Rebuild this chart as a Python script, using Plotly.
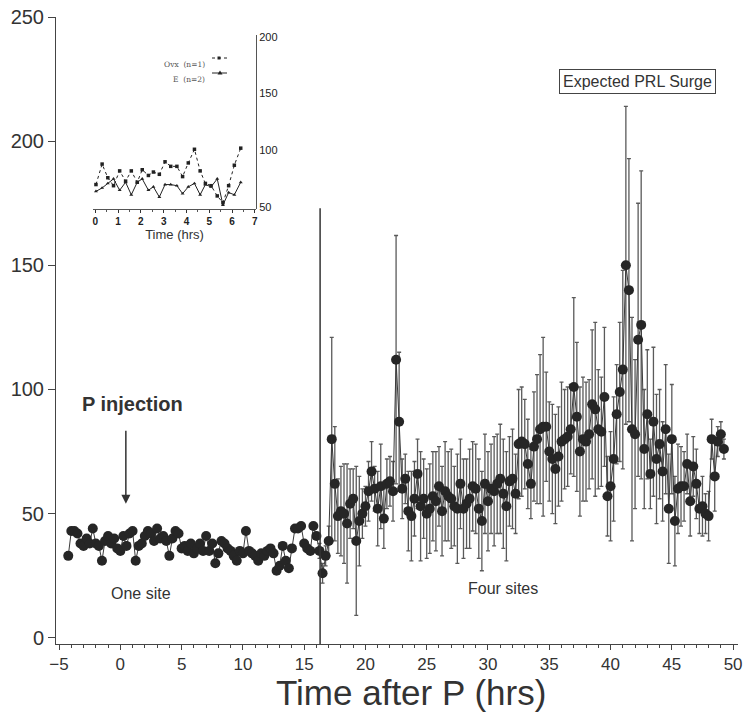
import plotly.graph_objects as go

# ---------------- main data ----------------
pre_time = [-4.25, -4.0, -3.75, -3.5, -3.25, -3.0, -2.75, -2.5,
            -2.25, -2.0, -1.75, -1.5, -1.25, -1.0, -0.75, -0.5,
            -0.25, 0.0, 0.25, 0.5, 0.75, 1.0, 1.25, 1.5,
            1.75, 2.0, 2.25, 2.5, 2.75, 3.0, 3.25, 3.5,
            3.75, 4.0, 4.25, 4.5, 4.75, 5.0, 5.25, 5.5,
            5.75, 6.0, 6.25, 6.5, 6.75, 7.0, 7.25, 7.5,
            7.75, 8.0, 8.25, 8.5, 8.75, 9.0, 9.25, 9.5,
            9.75, 10.0, 10.25, 10.5, 10.75, 11.0, 11.25, 11.5,
            11.75, 12.0, 12.25, 12.5, 12.75, 13.0, 13.25, 13.5,
            13.75, 14.0, 14.25, 14.5, 14.75, 15.0, 15.25, 15.5,
            15.75, 16.0]
pre_prl = [33, 43, 43, 42, 38, 37, 40, 38,
           44, 38, 37, 31, 39, 41, 38, 40,
           36, 35, 41, 37, 42, 43, 31, 37,
           38, 41, 43, 42, 39, 44, 40, 41,
           39, 33, 40, 43, 42, 36, 37, 35,
           38, 34, 36, 38, 35, 41, 35, 38,
           30, 34, 39, 38, 36, 35, 33, 31,
           35, 34, 43, 35, 34, 33, 31, 34,
           33, 35, 36, 34, 27, 29, 37, 31,
           28, 36, 44, 44, 45, 38, 36, 35,
           45, 41]

post_time = [16.25, 16.5, 16.75, 17.0, 17.25, 17.5, 17.75, 18.0,
             18.25, 18.5, 18.75, 19.0, 19.25, 19.5, 19.75, 20.0,
             20.25, 20.5, 20.75, 21.0, 21.25, 21.5, 21.75, 22.0,
             22.25, 22.5, 22.75, 23.0, 23.25, 23.5, 23.75, 24.0,
             24.25, 24.5, 24.75, 25.0, 25.25, 25.5, 25.75, 26.0,
             26.25, 26.5, 26.75, 27.0, 27.25, 27.5, 27.75, 28.0,
             28.25, 28.5, 28.75, 29.0, 29.25, 29.5, 29.75, 30.0,
             30.25, 30.5, 30.75, 31.0, 31.25, 31.5, 31.75, 32.0,
             32.25, 32.5, 32.75, 33.0, 33.25, 33.5, 33.75, 34.0,
             34.25, 34.5, 34.75, 35.0, 35.25, 35.5, 35.75, 36.0,
             36.25, 36.5, 36.75, 37.0, 37.25, 37.5, 37.75, 38.0,
             38.25, 38.5, 38.75, 39.0, 39.25, 39.5, 39.75, 40.0,
             40.25, 40.5, 40.75, 41.0, 41.25, 41.5, 41.75, 42.0,
             42.25, 42.5, 42.75, 43.0, 43.25, 43.5, 43.75, 44.0,
             44.25, 44.5, 44.75, 45.0, 45.25, 45.5, 45.75, 46.0,
             46.25, 46.5, 46.75, 47.0, 47.25, 47.5, 47.75, 48.0,
             48.25, 48.5, 48.75, 49.0, 49.25]
post_prl = [35, 26, 33, 39, 80, 62, 49, 51,
            50, 46, 54, 56, 39, 47, 50, 53,
            59, 67, 60, 52, 61, 48, 62, 63,
            59, 112, 87, 60, 64, 51, 49, 56,
            66, 53, 56, 50, 52, 57, 55, 61,
            51, 59, 57, 56, 53, 52, 62, 52,
            54, 56, 61, 60, 52, 47, 62, 55,
            60, 59, 62, 64, 58, 53, 63, 64,
            58, 78, 79, 78, 70, 62, 77, 80,
            84, 85, 85, 75, 72, 68, 73, 79,
            80, 81, 84, 101, 89, 75, 80, 79,
            82, 94, 92, 84, 83, 97, 57, 61,
            72, 90, 99, 108, 150, 140, 84, 82,
            120, 126, 76, 90, 66, 87, 72, 78,
            67, 84, 52, 80, 47, 60, 61, 61,
            70, 55, 69, 62, 52, 53, 50, 49,
            80, 65, 79, 82, 76]
post_sem = [3, 4, 4, 6, 41, 23, 15, 18,
            20, 24, 14, 12, 30, 18, 10, 8,
            12, 12, 9, 15, 17, 12, 10, 10,
            12, 50, 28, 12, 10, 16, 18, 15,
            14, 22, 16, 18, 18, 18, 20, 16,
            18, 20, 18, 20, 16, 22, 18, 20,
            18, 20, 18, 18, 20, 20, 20, 20,
            18, 22, 20, 22, 22, 22, 18, 20,
            16, 22, 22, 18, 18, 14, 22, 26,
            30, 36, 22, 20, 22, 22, 20, 24,
            20, 20, 18, 36, 30, 26, 25, 24,
            22, 30, 35, 24, 22, 28, 16, 22,
            25, 20, 28, 40, 64, 53, 45, 30,
            55, 62, 24, 26, 14, 30, 26, 22,
            20, 26, 22, 22, 18, 18, 16, 14,
            12, 14, 12, 14, 10, 12, 8, 10,
            8, 14, 6, 5, 4]
assert len(pre_time) == len(pre_prl)
assert len(post_time) == len(post_prl) == len(post_sem)

y_ticks = [0, 50, 100, 150, 200, 250]
x_ticks = [-5, 0, 5, 10, 15, 20, 25, 30, 35, 40, 45, 50]
injection_time = 16.3

# ---------------- inset data ----------------
inset_time = [0.03, 0.3, 0.55, 0.8, 1.07, 1.33, 1.58, 1.84, 2.06, 2.33, 2.55, 2.81, 3.06,
              3.31, 3.58, 3.83, 4.08, 4.35, 4.6, 4.83, 5.08, 5.35, 5.6, 5.85, 6.1, 6.38]
ovx_vals = [70, 88, 76, 69, 82, 73, 82, 72, 83, 78, 81, 79, 90,
            86, 86, 77, 89, 101, 82, 71, 69, 60, 54, 69, 87, 102]
e_vals = [64, 67, 71, 75, 65, 72, 61, 72, 75, 65, 68, 59, 70,
          70, 69, 62, 68, 71, 61, 70, 68, 75, 52, 63, 61, 72]
inset_x_ticks = [0, 1, 2, 3, 4, 5, 6, 7]
inset_y_ticks = [50, 100, 150, 200]

# ---------------- figure ----------------
DARK = "#262626"
all_time = pre_time + post_time
all_prl = pre_prl + post_prl
all_err = [0] * len(pre_time) + post_sem

fig = go.Figure()
fig.add_trace(go.Scatter(
    x=all_time, y=all_prl, mode="lines+markers",
    line=dict(color="#3a3a3a", width=1),
    marker=dict(color=DARK, size=10),
    error_y=dict(type="data", array=all_err, visible=True,
                 color="#5a5a5a", thickness=1.3, width=2),
    showlegend=False, cliponaxis=False,
))

fig.add_trace(go.Scatter(
    x=inset_time, y=ovx_vals, mode="lines+markers", xaxis="x2", yaxis="y2",
    line=dict(color="#222", width=1, dash="dot"),
    marker=dict(symbol="square", size=3.5, color="#222"),
    showlegend=False,
))
fig.add_trace(go.Scatter(
    x=inset_time, y=e_vals, mode="lines+markers", xaxis="x2", yaxis="y2",
    line=dict(color="#222", width=1),
    marker=dict(symbol="triangle-up", size=3.5, color="#222"),
    showlegend=False,
))

# Layout geometry
W, H = 744, 715
L, R, T, B = 56, 6, 17, 71
pw = W - L - R
ph = H - T - B


def px(xp):
    return (xp - L) / pw


def py(yp):
    return (H - B - yp) / ph


main_font = "Liberation Sans, Arial, sans-serif"

fig.update_layout(
    width=W, height=H,
    margin=dict(l=L, r=R, t=T, b=B, autoexpand=False),
    paper_bgcolor="white", plot_bgcolor="white",
    xaxis=dict(
        range=[-5.25, 50.4], tickvals=x_ticks, ticks="outside", ticklen=5,
        tickcolor="#444", showline=True, linecolor="#444", linewidth=1,
        showgrid=False, zeroline=False, ticklabeloverflow="allow", automargin=False,
        tickfont=dict(family=main_font, size=17, color="#333"),
        minor=dict(dtick=1, ticks="outside", ticklen=3, tickcolor="#444"),
    ),
    yaxis=dict(
        range=[-2.5, 250], tickvals=y_ticks, ticks="outside", ticklen=7,
        tickcolor="#444", showline=True, linecolor="#444", linewidth=1,
        showgrid=False, zeroline=False, automargin=False,
        tickfont=dict(family=main_font, size=20, color="#333"),
    ),
    xaxis2=dict(
        domain=[px(93), px(256)], anchor="y2", range=[-0.1, 7.05], automargin=False,
        tickvals=inset_x_ticks, ticktext=[f"<b>{v}</b>" for v in inset_x_ticks],
        ticks="outside", ticklen=3, tickcolor="#333",
        showline=True, linecolor="#555", linewidth=1, showgrid=False, zeroline=False,
        tickfont=dict(family=main_font, size=10, color="#222"),
        minor=dict(dtick=0.5, ticks="outside", ticklen=2, tickcolor="#555"),
        title=dict(text="Time (hrs)", standoff=2,
                   font=dict(family=main_font, size=13, color="#333")),
    ),
    yaxis2=dict(
        domain=[py(209), py(35)], anchor="free", range=[48.5, 201.5], side="right",
        position=px(256), automargin=False,
        tickvals=inset_y_ticks, ticks="", showline=True, linecolor="#555",
        linewidth=1, showgrid=False, zeroline=False,
        tickfont=dict(family=main_font, size=11, color="#222"),
    ),
)

# x-axis title placed as text
fig.add_annotation(x=px(411), y=py(692), xref="paper", yref="paper",
                   xanchor="center", yanchor="middle",
                   text="Time after P (hrs)", showarrow=False,
                   font=dict(family=main_font, size=35, color="#333"))

# vertical line marking change of sites
fig.add_shape(type="line", xref="x", yref="y", x0=injection_time, x1=injection_time,
              y0=-2.5, y1=173, line=dict(color="#333", width=1.5))

# annotations
fig.add_annotation(x=1.0, y=94, xref="x", yref="y", text="<b>P injection</b>",
                   showarrow=False, font=dict(family=main_font, size=20, color="#333"))
fig.add_annotation(x=0.45, y=54, ax=0.45, ay=84, xref="x", yref="y", axref="x", ayref="y",
                   text="", showarrow=True, arrowhead=2, arrowsize=1.2, arrowwidth=1.5,
                   arrowcolor="#333")
fig.add_annotation(x=1.7, y=18, xref="x", yref="y", text="One site",
                   showarrow=False, font=dict(family=main_font, size=16, color="#333"))
fig.add_annotation(x=31.2, y=19.7, xref="x", yref="y", text="Four sites",
                   showarrow=False, font=dict(family=main_font, size=16, color="#333"))
fig.add_annotation(x=42.2, y=224, xref="x", yref="y", text="Expected PRL Surge",
                   showarrow=False, bordercolor="#444", borderwidth=1, borderpad=3,
                   bgcolor="white", font=dict(family=main_font, size=16, color="#333"))

# inset legend (text + sample symbols)
leg_font = dict(family="DejaVu Serif, serif", size=7.5, color="#555")
fig.add_annotation(x=px(207), y=py(58), xref="paper", yref="paper", xanchor="right",
                   text="Ovx  (n=1)", showarrow=False, font=leg_font)
fig.add_annotation(x=px(207), y=py(73), xref="paper", yref="paper", xanchor="right",
                   text="E  (n=2)", showarrow=False, font=leg_font)
fig.add_shape(type="line", xref="paper", yref="paper", x0=px(212), x1=px(227),
              y0=py(58), y1=py(58), line=dict(color="#222", width=1, dash="dot"))
fig.add_shape(type="rect", xref="paper", yref="paper", x0=px(217.5), x1=px(220.5),
              y0=py(59.5), y1=py(56.5), fillcolor="#222", line=dict(width=0))
fig.add_shape(type="line", xref="paper", yref="paper", x0=px(212), x1=px(227),
              y0=py(73), y1=py(73), line=dict(color="#222", width=1))
fig.add_shape(type="path", xref="paper", yref="paper",
              path=f"M {px(217.5)},{py(74.5)} L {px(222.5)},{py(74.5)} L {px(220)},{py(70.5)} Z",
              fillcolor="#222", line=dict(width=0))

fig.write_html("out.html", config={"displayModeBar": False},
               post_script="document.body.style.margin='0';")
